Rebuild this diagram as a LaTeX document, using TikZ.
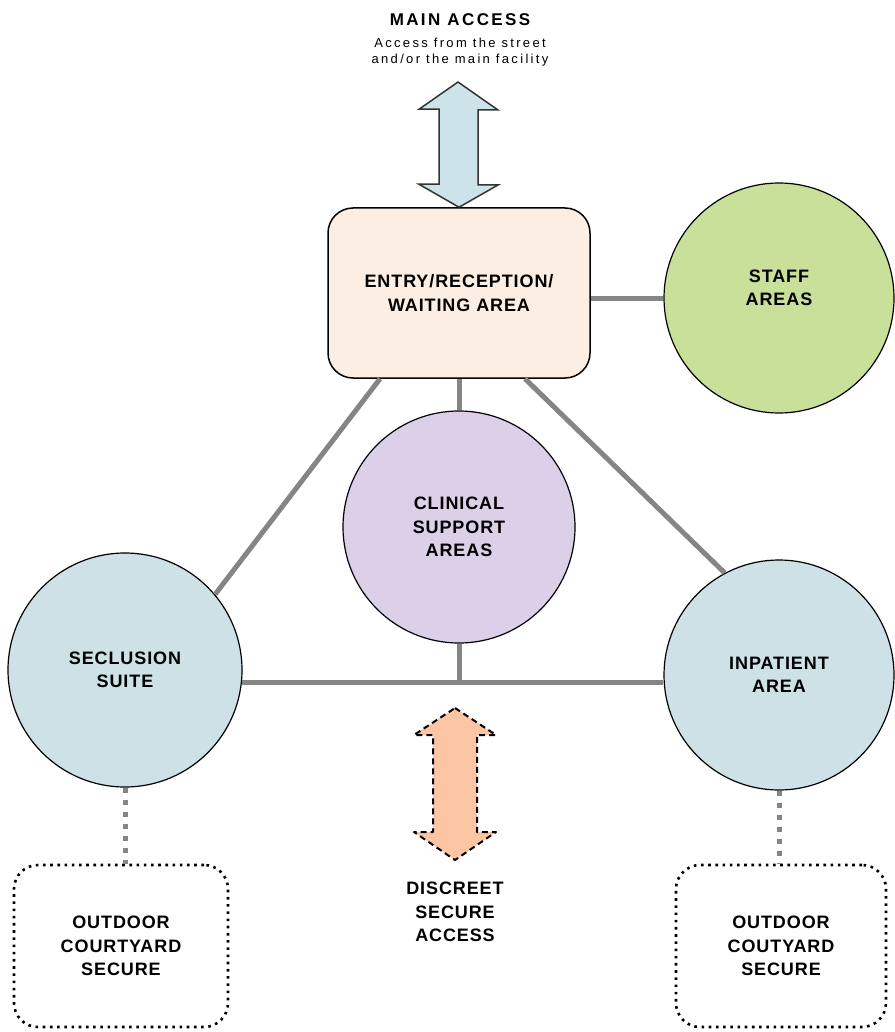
\documentclass[tikz,border=0pt]{standalone}
\usepackage{fontspec}
\setmainfont{Liberation Sans}
\newfontfamily\lblfont{Liberation Sans}[LetterSpace=5]
\newfontfamily\subfont{Liberation Sans}[LetterSpace=18]
\newfontfamily\ttlfont{Liberation Sans}[LetterSpace=14]
\definecolor{entryfill}{HTML}{FDEEE4}
\definecolor{stafffill}{HTML}{C9E09A}
\definecolor{clinfill}{HTML}{DCD0E8}
\definecolor{wardfill}{HTML}{CDE1E7}
\definecolor{mainarrow}{HTML}{CCE3EA}
\definecolor{secarrow}{HTML}{FCC6A4}
\definecolor{linkgray}{HTML}{858585}
\tikzset{
  lbl/.style={font=\lblfont\bfseries\fontsize{18}{23.5}\selectfont, align=center, text=black},
  zone/.style={circle, draw=black, line width=1.2pt, minimum size=232pt, inner sep=0pt, lbl},
  link/.style={draw=linkgray, line width=5pt},
  dotlink/.style={draw=linkgray, line width=5pt, dash pattern=on 5pt off 7pt},
  yard/.style={draw=black, line width=2.6pt, rounded corners=24pt, dash pattern=on 2.6pt off 4.6pt,
    minimum width=212pt, minimum height=162pt, lbl}
}
\begin{document}
\begin{tikzpicture}[x=1pt, y=-1pt]
  \useasboundingbox (0,0) rectangle (894,1032);
  % 文字
  \node[lbl, font=\ttlfont\bfseries\fontsize{17}{18}\selectfont] (mainttl) at (460,20) {MAIN ACCESS};
  \node[align=center, font=\subfont\fontsize{13}{16}\selectfont] (mainsub) at (460,52)
    {Access from the street\\and/or the main facility};
  % 节点
  \node[lbl, draw=black, line width=1.5pt, fill=entryfill, rounded corners=25pt,
    minimum width=262pt, minimum height=170pt] (entry) at (459,293) {ENTRY/RECEPTION/\\WAITING AREA};
  \node[zone, fill=stafffill, minimum size=230pt] (staff) at (779,298) {};
  \node[lbl] (stafftxt) at (779,288) {STAFF\\AREAS};
  \node[zone, fill=clinfill] (clin) at (459,527) {CLINICAL\\SUPPORT\\AREAS};
  \node[zone, fill=wardfill, minimum size=234pt] (secl) at (125,670) {SECLUSION\\SUITE};
  \node[zone, fill=wardfill, minimum size=230pt] (inpat) at (779,675) {INPATIENT\\AREA};
  \node[yard, minimum width=214pt] (yardL) at (121,946) {OUTDOOR\\COURTYARD\\SECURE};
  \node[yard, minimum width=210pt] (yardR) at (781,946) {OUTDOOR\\COUTYARD\\SECURE};
  \node[lbl] (discreet) at (455,912) {DISCREET\\SECURE\\ACCESS};
  % 连线
  \draw[link] (staff.west -| entry.east) -- (staff.west);
  \draw[link] (entry.south) -- (clin.north);
  \draw[link] ([xshift=-79pt]entry.south) -- (secl.40);
  \draw[link] ([xshift=66pt]entry.south) -- (inpat.118);
  \draw[link] (secl.-6) -- (secl.-6 -| inpat.west);
  \draw[link] (clin.south) -- (clin.south |- secl.-6);
  \draw[dotlink] (secl.south) -- (secl.south |- yardL.north);
  \draw[dotlink] (inpat.south) -- (inpat.south |- yardR.north);
  % 双向箭头
  \coordinate (ma) at (458,82);
  \filldraw[fill=mainarrow, draw=black!80, line width=1.5pt, line join=miter]
    (ma) -- ++(40,28) -- ++(-20,0) -- ++(0,75) -- ++(20,0) -- (entry.north)
    -- ++(-40,-23) -- ++(20,0) -- ++(0,-75) -- ++(-20,0) -- cycle;
  \coordinate (da) at (455,708);
  \filldraw[fill=secarrow, draw=black, line width=2pt, dash pattern=on 6pt off 4pt, line join=round]
    (da) -- ++(41,27) -- ++(-19,0) -- ++(0,97) -- ++(19,0) -- ++(-41,28)
    -- ++(-41,-28) -- ++(19,0) -- ++(0,-97) -- ++(-19,0) -- cycle;
\end{tikzpicture}
\end{document}
